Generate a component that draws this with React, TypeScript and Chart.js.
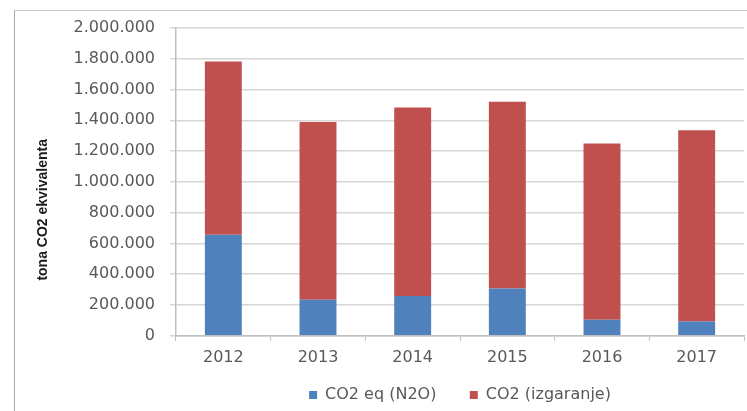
import React, { useEffect, useRef } from "react";
import { Chart, registerables } from "chart.js";

Chart.register(...registerables);

const years = ["2012", "2013", "2014", "2015", "2016", "2017"];
const n2oValues = [657000, 235000, 259000, 308000, 104000, 93000];
const combustionValues = [1125000, 1155000, 1225000, 1213000, 1146000, 1243000];
const seriesLabels = ["CO2 eq (N2O)", "CO2 (izgaranje)"];
const seriesColors = ["#4F81BD", "#C0504D"];
const yTitle = "tona CO2 ekvivalenta";
const yMin = 0;
const yMax = 2000000;
const yStep = 200000;

const fmt = (v: number) =>
  String(Math.round(v)).replace(/\B(?=(\d{3})+(?!\d))/g, ".");

const yTitlePlugin = {
  id: "yTitleCustom",
  afterDraw(chart: any) {
    const { ctx, chartArea } = chart;
    ctx.save();
    ctx.translate(chartArea.left - 133, chartArea.bottom - 126);
    ctx.rotate(-Math.PI / 2);
    ctx.font = "bold 14px 'Liberation Sans'";
    ctx.fillStyle = "#1a1a1a";
    ctx.textAlign = "center";
    ctx.textBaseline = "middle";
    ctx.fillText(yTitle, 0, 0);
    ctx.restore();
  },
};

export default function App() {
  const ref = useRef<HTMLCanvasElement | null>(null);

  useEffect(() => {
    if (!ref.current) return;
    const tickFont = { family: "'DejaVu Sans'", size: 16 };
    const chart = new Chart(ref.current, {
      type: "bar",
      data: {
        labels: years,
        datasets: [
          {
            label: seriesLabels[0],
            data: n2oValues,
            backgroundColor: seriesColors[0],
            barPercentage: 0.39,
            categoryPercentage: 1,
          },
          {
            label: seriesLabels[1],
            data: combustionValues,
            backgroundColor: seriesColors[1],
            barPercentage: 0.39,
            categoryPercentage: 1,
          },
        ],
      },
      options: {
        animation: false,
        responsive: false,
        maintainAspectRatio: false,
        layout: { padding: { left: 0, right: 3, top: 28, bottom: -2 } },
        plugins: {
          legend: {
            position: "bottom",
            fullSize: false,
            labels: {
              boxWidth: 8,
              boxHeight: 8,
              padding: 13,
              color: "#595959",
              font: { family: "'DejaVu Sans'", size: 16 },
              generateLabels: (chart: any) => {
                const items = Chart.defaults.plugins.legend.labels.generateLabels(chart);
                return items.map((it: any, i: number) => ({
                  ...it,
                  text: i < items.length - 1 ? it.text + "    " : it.text,
                }));
              },
            },
          },
          tooltip: { enabled: false },
        },
        scales: {
          x: {
            stacked: true,
            grid: {
              display: true,
              drawOnChartArea: false,
              drawTicks: true,
              tickLength: 5,
              offset: true,
              color: "#bfbfbf",
            },
            border: { display: true, color: "#bfbfbf", width: 1.5 },
            ticks: { color: "#595959", font: tickFont, padding: 7 },
          },
          y: {
            stacked: true,
            min: yMin,
            max: yMax,
            afterFit: (scale: any) => {
              scale.width = 176;
            },
            grid: {
              color: "#d6d6d6",
              lineWidth: 1.5,
              tickLength: 6,
            },
            border: { display: true, color: "#bfbfbf", width: 1.5 },
            ticks: {
              stepSize: yStep,
              color: "#595959",
              font: tickFont,
              padding: 15,
              callback: (v: any) => fmt(Number(v)),
            },
          },
        },
      },
      plugins: [yTitlePlugin],
    });
    return () => chart.destroy();
  }, []);

  return (
    <div style={{ position: "relative", width: 747, height: 411, overflow: "hidden", background: "#fff" }}>
      <style>{"body{margin:0;overflow:hidden}"}</style>
      <div
        style={{
          position: "absolute",
          left: 14,
          top: 10,
          width: 900,
          height: 600,
          borderLeft: "1px solid #a8a8a8",
          borderTop: "1px solid #c8c8c8",
        }}
      />
      <canvas
        ref={ref}
        width={747}
        height={411}
        style={{ position: "absolute", left: 0, top: 0, width: 747, height: 411 }}
      />
    </div>
  );
}
